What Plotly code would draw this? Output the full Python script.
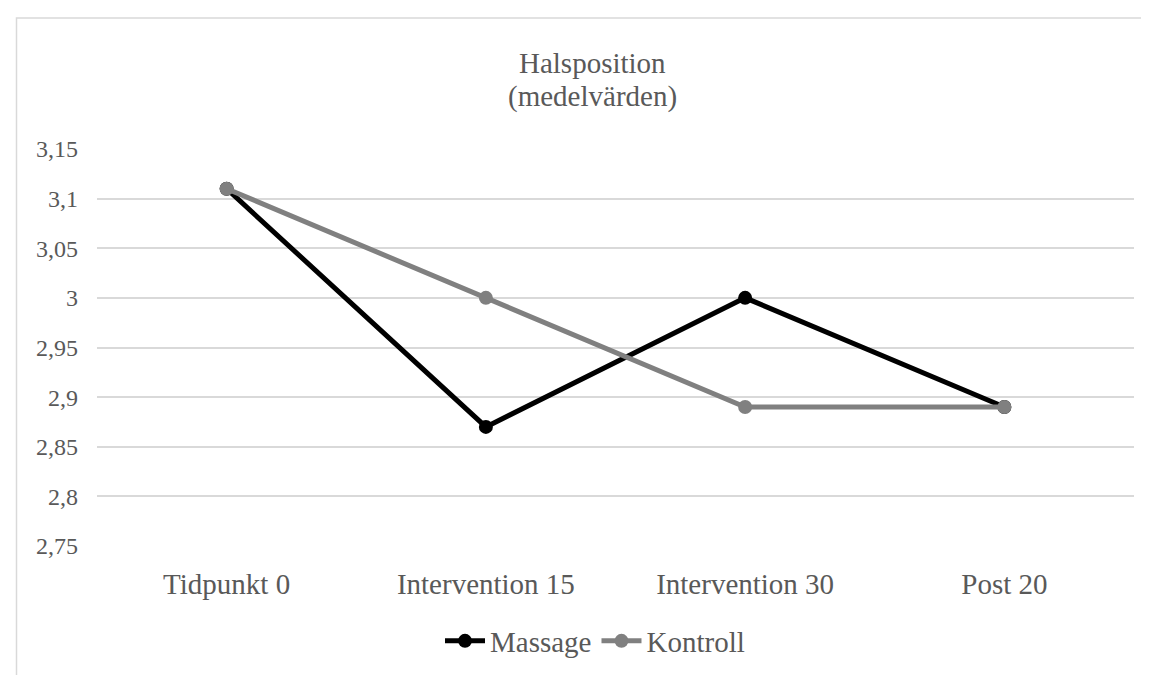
import plotly.graph_objects as go

categories = ["Tidpunkt 0", "Intervention 15", "Intervention 30", "Post 20"]
massage = [3.11, 2.87, 3.00, 2.89]
kontroll = [3.11, 3.00, 2.89, 2.89]
ytick_vals = [2.75, 2.80, 2.85, 2.90, 2.95, 3.00, 3.05, 3.10, 3.15]
ytick_text = ["2,75", "2,8", "2,85", "2,9", "2,95", "3", "3,05", "3,1", "3,15"]

W, H = 1149, 675
ML, MR, MT, MB = 89, 23, 141, 137
PW = W - ML - MR
PH = H - MT - MB

def px_x(x):
    return (x - ML) / PW

def px_y(y):
    return (H - MB - y) / PH

FONT = "Liberation Serif, Times New Roman, serif"
TXT = "#595959"

fig = go.Figure()
fig.add_trace(go.Scatter(
    x=categories, y=massage, name="Massage", mode="lines+markers",
    line=dict(color="#000000", width=5), marker=dict(size=14, color="#000000"),
))
fig.add_trace(go.Scatter(
    x=categories, y=kontroll, name="Kontroll", mode="lines+markers",
    line=dict(color="#808080", width=5), marker=dict(size=14, color="#808080"),
))

fig.update_layout(
    width=W, height=H,
    margin=dict(l=ML, r=MR, t=MT, b=MB, autoexpand=False),
    paper_bgcolor="white", plot_bgcolor="white",
    font=dict(family=FONT, color=TXT),
    separators=", ",
    showlegend=True,
    legend=dict(
        orientation="h", x=px_x(587), xanchor="center", y=px_y(633), yanchor="middle",
        font=dict(family=FONT, size=29, color=TXT), itemwidth=40,
        bgcolor="rgba(0,0,0,0)",
    ),
    xaxis=dict(
        type="category", range=[-0.5, 3.5], showgrid=False, zeroline=False,
        showline=False, ticks="", tickfont=dict(family=FONT, size=29, color=TXT),
        ticklabelstandoff=18,
    ),
    yaxis=dict(
        range=[2.75, 3.15], tickvals=ytick_vals, ticktext=ytick_text,
        showgrid=True, gridcolor="#d9d9d9", gridwidth=1.5, zeroline=False,
        showline=False, ticks="", tickfont=dict(family=FONT, size=24, color=TXT),
        ticklabelstandoff=18,
    ),
    shapes=[dict(
        type="rect", xref="paper", yref="paper",
        x0=px_x(8.5), x1=px_x(1200), y0=px_y(720), y1=px_y(10),
        line=dict(color="#d9d9d9", width=1.5), fillcolor="rgba(0,0,0,0)", layer="below",
    )],
    annotations=[
        dict(text="Halsposition", xref="paper", yref="paper", x=px_x(584), y=px_y(55),
             xanchor="center", yanchor="middle", showarrow=False,
             font=dict(family=FONT, size=29, color=TXT)),
        dict(text="(medelvärden)", xref="paper", yref="paper", x=px_x(584), y=px_y(88),
             xanchor="center", yanchor="middle", showarrow=False,
             font=dict(family=FONT, size=29, color=TXT)),
    ],
)

fig.write_html("out.html")
